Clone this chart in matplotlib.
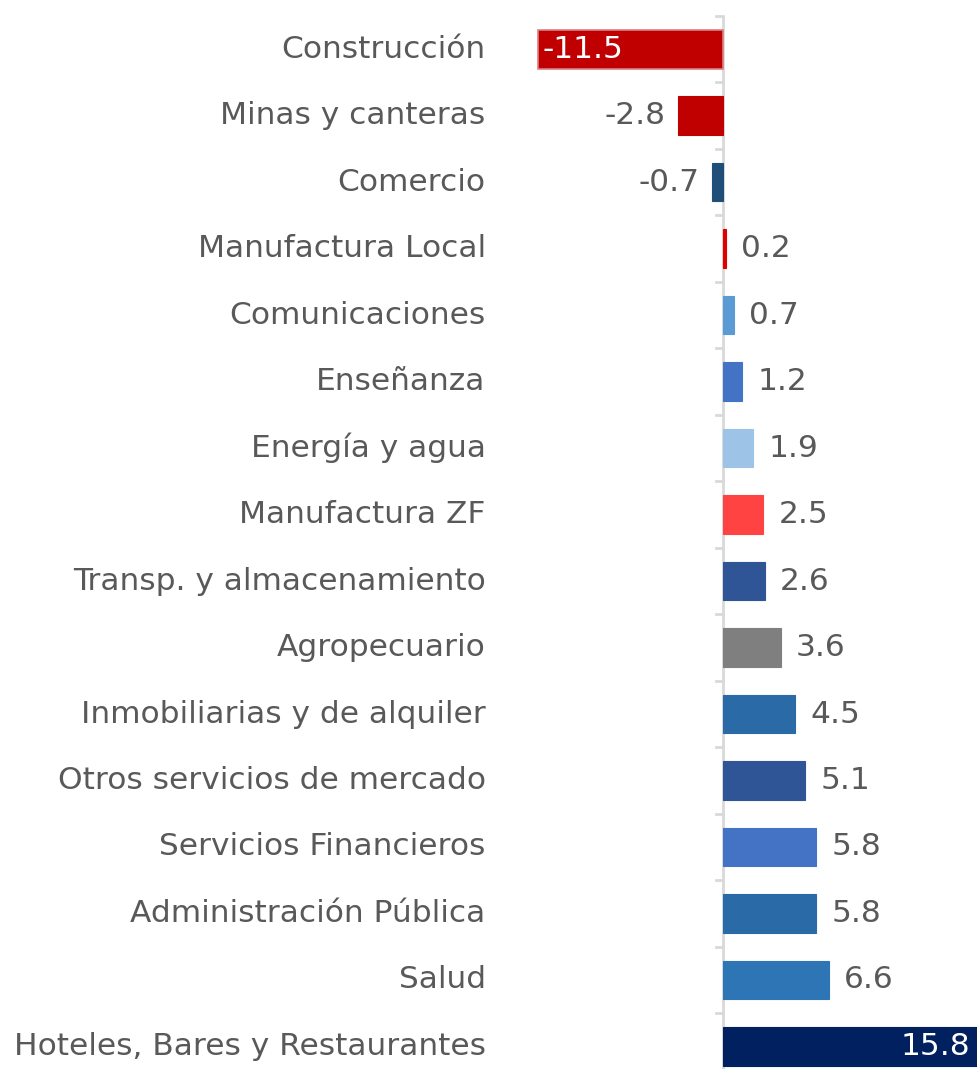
import matplotlib
matplotlib.use("Agg")
import matplotlib.pyplot as plt

categories = ["Construcción", "Minas y canteras", "Comercio", "Manufactura Local",
              "Comunicaciones", "Enseñanza", "Energía y agua", "Manufactura ZF",
              "Transp. y almacenamiento", "Agropecuario", "Inmobiliarias y de alquiler",
              "Otros servicios de mercado", "Servicios Financieros",
              "Administración Pública", "Salud", "Hoteles, Bares y Restaurantes"]
values = [-11.5, -2.8, -0.7, 0.2, 0.7, 1.2, 1.9, 2.5, 2.6, 3.6, 4.5, 5.1, 5.8, 5.8, 6.6, 15.8]
colors = ["#C00000", "#C00000", "#1F4E79", "#E00000", "#5B9BD5", "#4472C4", "#9DC3E6",
          "#FF4343", "#2F5597", "#7F7F7F", "#2A6AA6", "#2F5597", "#4472C4", "#2A6AA6",
          "#2E75B6", "#002060"]

plt.rcParams['font.family'] = ['DejaVu Sans']
W, H = 977, 1069
fig = plt.figure(figsize=(W / 100, H / 100), dpi=100)
ax = fig.add_axes([538 / W, 0, (977 - 538) / W, (1069 - 16) / H])
ax.set_xlim(-11.5, 15.8)
ax.set_ylim(15.34, -0.5)

ypos = list(range(len(categories)))
bars = ax.barh(ypos, values, height=0.58, color=colors, edgecolor=colors, linewidth=0.8,
               clip_on=False, zorder=2)
bars[0].set_edgecolor("#D98080")
bars[0].set_linewidth(1.2)

txtc = "#595959"
fs = 22.5
for y, v in zip(ypos, values):
    if y == 0:
        ax.text(v + 0.3, y, f"{v:.1f}", ha="left", va="center", color="white", fontsize=fs)
    elif y == len(values) - 1:
        ax.text(v - 0.4, y, f"{v:.1f}", ha="right", va="center", color="white", fontsize=fs)
    elif v < 0:
        ax.text(v - 0.75, y, f"{v:.1f}", ha="right", va="center", color=txtc, fontsize=fs)
    else:
        ax.text(v + 0.95, y, f"{v:.1f}", ha="left", va="center", color=txtc, fontsize=fs)

for y, c in zip(ypos, categories):
    ax.text(-14.75, y, c, ha="right", va="center", color=txtc, fontsize=fs,
            transform=ax.transData, clip_on=False)

for s in ["top", "right", "bottom", "left"]:
    ax.spines[s].set_visible(False)
ax.axvline(0, color="#D9D9D9", lw=2, zorder=1)
for b in range(len(categories)):
    yb = b - 0.5
    ax.plot([-0.4, 0], [yb, yb], color="#D9D9D9", lw=2, clip_on=False, zorder=1)
ax.set_xticks([])
ax.set_yticks([])

fig.savefig("out.png", dpi=100)
